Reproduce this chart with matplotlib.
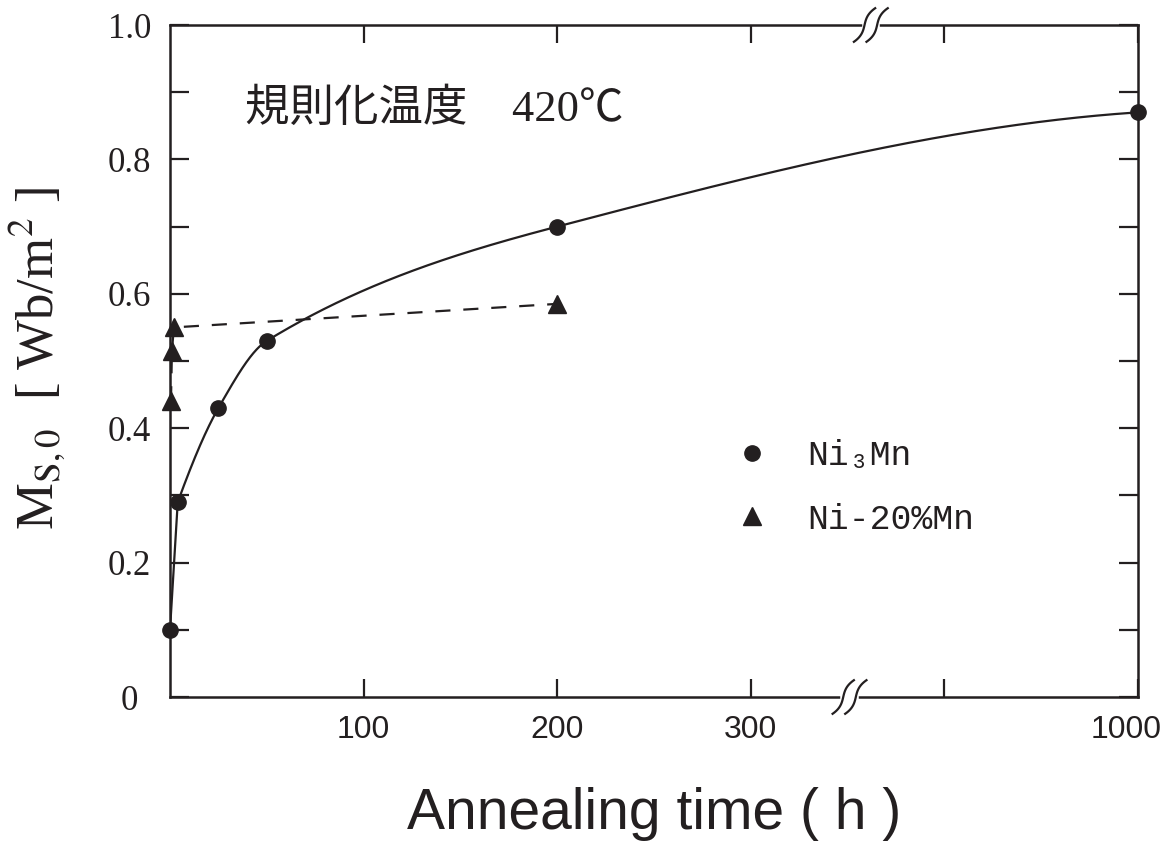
import numpy as np
import matplotlib
matplotlib.use('Agg')
import matplotlib.pyplot as plt
from matplotlib.lines import Line2D
from matplotlib.transforms import ScaledTranslation

# ---------------- data ----------------
ni3mn_time = [0, 4, 25, 50, 200, 1000]
ni3mn_ms = [0.10, 0.29, 0.43, 0.53, 0.70, 0.87]
ni20mn_time = [0.5, 1, 2, 200]
ni20mn_ms = [0.44, 0.515, 0.55, 0.585]

xtick_vals = [100, 200, 300, 900, 1000]
xtick_labels = ['100', '200', '300', '', '1000']
ytick_vals = [0.0, 0.1, 0.2, 0.3, 0.4, 0.5, 0.6, 0.7, 0.8, 0.9, 1.0]
ytick_labels = ['0', '', '0.2', '', '0.4', '', '0.6', '', '0.8', '', '1.0']

title_text = '規則化温度　420℃'
xlabel_text = 'Annealing time ( h )'
ylabel_text = r'M$_{\mathrm{S,0}}$  [ Wb/m$^2$ ]'
legend_labels = ['Ni₃Mn', 'Ni-20%Mn']

BREAK_LO, BREAK_HI = 350.0, 850.0


def fwd(t):
    t = np.asarray(t, float)
    return np.where(t <= BREAK_LO, t,
                    np.where(t >= BREAK_HI, t - (BREAK_HI - BREAK_LO), BREAK_LO))


def inv(d):
    d = np.asarray(d, float)
    return np.where(d <= BREAK_LO, d, d + (BREAK_HI - BREAK_LO))


def monotone_hermite(x, y, xs):
    x = np.asarray(x, float)
    y = np.asarray(y, float)
    h = np.diff(x)
    delta = np.diff(y) / h
    n = len(x)
    d = np.zeros(n)
    for k in range(1, n - 1):
        if delta[k - 1] * delta[k] > 0:
            d[k] = 2.0 / (1.0 / delta[k - 1] + 1.0 / delta[k])

    def end(h0, h1, d0, d1):
        dd = ((2 * h0 + h1) * d0 - h0 * d1) / (h0 + h1)
        if np.sign(dd) != np.sign(d0):
            dd = 0.0
        elif np.sign(d0) != np.sign(d1) and abs(dd) > abs(3 * d0):
            dd = 3 * d0
        return dd

    d[0] = end(h[0], h[1], delta[0], delta[1])
    d[-1] = end(h[-1], h[-2], delta[-1], delta[-2])
    idx = np.clip(np.searchsorted(x, xs) - 1, 0, n - 2)
    t = (xs - x[idx]) / h[idx]
    h00 = 2 * t**3 - 3 * t**2 + 1
    h10 = t**3 - 2 * t**2 + t
    h01 = -2 * t**3 + 3 * t**2
    h11 = t**3 - t**2
    return (h00 * y[idx] + h10 * h[idx] * d[idx]
            + h01 * y[idx + 1] + h11 * h[idx] * d[idx + 1])


plt.rcParams['mathtext.fontset'] = 'stix'
ink = '#231f20'

fig = plt.figure(figsize=(11.76, 8.48), dpi=100)
ax = fig.add_axes([170 / 1176, 1 - 697 / 848, 968 / 1176, 672 / 848])
ax.set_xscale('function', functions=(fwd, inv))
ax.set_xlim(0, 1000)
ax.set_ylim(0, 1.0)

for s in ax.spines.values():
    s.set_linewidth(1.8)
    s.set_color(ink)

# Ni3Mn: straight rise between the first two points, smooth curve after
xd = fwd(ni3mn_time)
ax.plot(ni3mn_time[:2], ni3mn_ms[:2], '-', color=ink, lw=1.6, zorder=3)
xs = np.linspace(xd[1], xd[-1], 1500)
ys = monotone_hermite(xd[1:], ni3mn_ms[1:], xs)
ax.plot(inv(xs), ys, '-', color=ink, lw=1.6, zorder=3, clip_on=False)
ax.plot(ni3mn_time, ni3mn_ms, 'o', color=ink, ms=11, zorder=4, clip_on=False)

ax.plot(ni20mn_time, ni20mn_ms, '--', color=ink, lw=1.6, dashes=(6.8, 5.8), zorder=3, clip_on=False)
ax.plot(ni20mn_time, ni20mn_ms, '^', color=ink, ms=13, zorder=4, clip_on=False)

# ticks
ax.set_xticks(xtick_vals)
ax.set_xticklabels(xtick_labels, fontfamily='Liberation Sans', fontsize=23, color=ink)
ax.xaxis.set_minor_locator(matplotlib.ticker.NullLocator())
ax.set_yticks(ytick_vals)
ax.set_yticklabels(ytick_labels, fontfamily='Liberation Serif', fontsize=25, color=ink, ha='center')
ax.tick_params(axis='x', direction='in', length=13, width=1.6, top=True, pad=13, colors=ink)
ax.tick_params(axis='y', direction='in', length=14, width=1.6, right=True, pad=29, colors=ink)
last = ax.get_xticklabels()[-1]
last.set_transform(last.get_transform() + ScaledTranslation(-0.12, 0, fig.dpi_scale_trans))

ax.set_xlabel(xlabel_text, fontfamily='Liberation Sans', fontsize=41, color=ink, labelpad=30)
ax.set_ylabel(ylabel_text, fontfamily='Liberation Serif', fontsize=38, color=ink)
ax.yaxis.set_label_coords(-0.106, 0.504)

ax.text(0.077, 0.875, title_text, transform=ax.transAxes,
        fontfamily=['Liberation Serif', 'Noto Sans CJK JP'], fontsize=32,
        color=ink, va='center', ha='left')

handles = [Line2D([], [], marker='o', ls='none', color=ink, ms=11),
           Line2D([], [], marker='^', ls='none', color=ink, ms=13)]
leg = ax.legend(handles, legend_labels, loc='upper left', bbox_to_anchor=(0.5833, 0.384),
                frameon=False, handlelength=1.0, handletextpad=1.08, labelspacing=0.88,
                borderpad=0, borderaxespad=0,
                prop={'family': ['Liberation Mono', 'DejaVu Sans Mono'], 'size': 25})
for t in leg.get_texts():
    t.set_color(ink)


# axis break marks
def break_mark(xc, yc):
    h = 0.05
    w = 0.007
    s = np.linspace(-1, 1, 60)
    bx = w * np.sign(s) * np.abs(s) ** 3 + 0.004 * s
    by = yc + h / 2 * s
    gap = 0.013
    ax.plot([xc - gap / 2, xc + gap / 2], [yc, yc], color='white', lw=4,
            transform=ax.transAxes, clip_on=False, zorder=6)
    for off in (-gap / 2, gap / 2):
        ax.plot(xc + off + bx, by, color=ink, lw=1.6, transform=ax.transAxes,
                clip_on=False, zorder=7)


break_mark(0.702, 0.0)
break_mark(0.724, 1.0)

fig.savefig('out.png', dpi=100, facecolor='white')
